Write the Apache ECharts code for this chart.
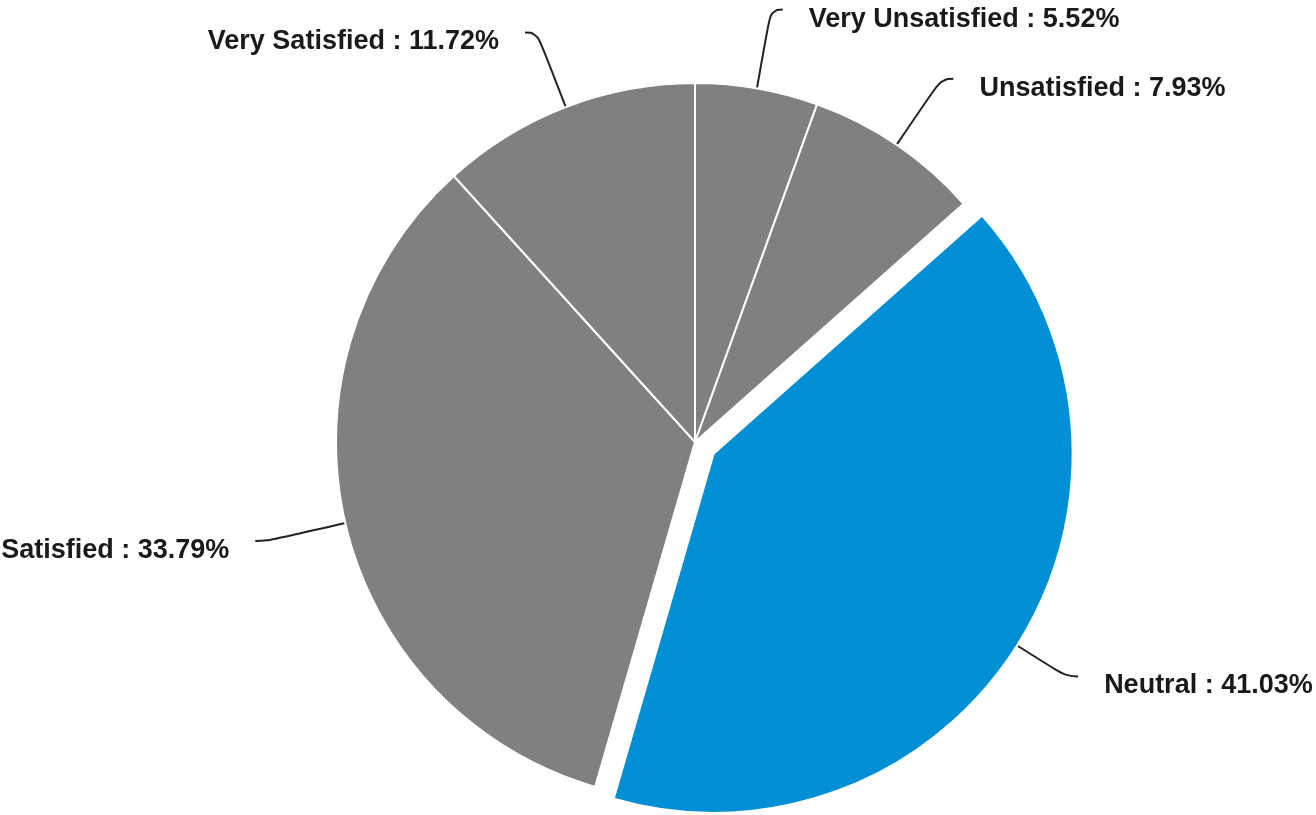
<!DOCTYPE html>
<html>
<head>
<meta charset="utf-8">
<script src="https://cdn.jsdelivr.net/npm/echarts@6/dist/echarts.min.js"></script>
<style>
  html, body { margin: 0; padding: 0; background: #ffffff; }
  #chart { width: 1316px; height: 815px; }
</style>
</head>
<body>
<div id="chart"></div>
<script>
// Satisfaction survey answers, clockwise from 12 o'clock
const categories = ['Very Unsatisfied', 'Unsatisfied', 'Neutral', 'Satisfied', 'Very Satisfied'];
const shares = [5.52, 7.93, 41.03, 33.79, 11.72];
const highlighted = 'Neutral';

const GREY = '#808080';
const BLUE = '#008fd5';

const sliceData = categories.map((name, i) => ({
  name,
  value: shares[i],
  selected: name === highlighted,
  itemStyle: { color: name === highlighted ? BLUE : GREY }
}));

const labelData = categories.map((name, i) => ({ name, value: shares[i] }));

const chart = echarts.init(document.getElementById('chart'), null, { renderer: 'canvas' });

const common = {
  type: 'pie',
  center: [695, 442],
  radius: 359,
  startAngle: 90,
  clockwise: true,
  animation: false,
  avoidLabelOverlap: false
};

chart.setOption({
  backgroundColor: '#ffffff',
  series: [
    // Sectors, with the highlighted answer pulled out
    Object.assign({}, common, {
      name: 'slices',
      selectedMode: 'single',
      selectedOffset: 22,
      data: sliceData,
      itemStyle: { borderColor: '#ffffff', borderWidth: 2 },
      label: { show: false },
      labelLine: { show: false },
      emphasis: { disabled: true }
    }),
    // Labels and leader lines, anchored to the unshifted ring
    Object.assign({}, common, {
      name: 'labels',
      silent: true,
      data: labelData,
      itemStyle: { color: 'rgba(0,0,0,0)', borderWidth: 0 },
      label: {
        show: true,
        position: 'outside',
        // a thin empty first line drops the text slightly below the leader end
        formatter: '{gap| }\n{txt|{b} : {c}%}',
        distanceToLabelLine: 26,
        rich: {
          gap: { fontSize: 1, lineHeight: 19 },
          txt: {
            fontFamily: 'Liberation Sans, Arial, sans-serif',
            fontWeight: 'bold',
            fontSize: 27,
            lineHeight: 27,
            color: '#1a1a1a'
          }
        }
      },
      labelLine: {
        show: true,
        length: 80,
        length2: 12,
        smooth: 0.5,
        lineStyle: { color: '#222222', width: 2 }
      },
      emphasis: { disabled: true }
    })
  ]
});
</script>
</body>
</html>
